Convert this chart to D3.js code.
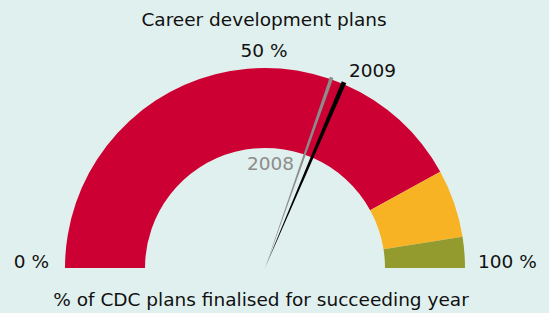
<!DOCTYPE html>
<html>
<head>
<meta charset="utf-8">
<script src="https://cdn.jsdelivr.net/npm/d3@7"></script>
<style>
  body { margin: 0; background: #e0f0ee; }
  text { font-family: "DejaVu Sans", Verdana, sans-serif; font-size: 18.5px; fill: #111; }
</style>
</head>
<body>
<div id="gauge"></div>
<script>
var svgWidth = 549;
var svgHeight = 313;

// gauge bands (percent)
var bandStarts = [0, 84, 95];
var bandEnds = [84, 95, 100];
var bandColors = ["#cc0033", "#f8b325", "#939b2e"];

// needles
var years = ["2008", "2009"];
var yearValues = [60.7, 62.8];
var needleColors = ["#8c8c8c", "#000000"];

// tick labels
var tickValues = [0, 50, 100];
var tickLabels = ["0 %", "50 %", "100 %"];

var cx = 265, cy = 268;
var innerR = 120, outerR = 200;

var svg = d3.select("#gauge")
  .append("svg")
  .attr("width", svgWidth)
  .attr("height", svgHeight);

svg.append("rect")
  .attr("width", svgWidth)
  .attr("height", svgHeight)
  .attr("fill", "#e0f0ee");

var angle = d3.scaleLinear()
  .domain([0, 100])
  .range([-Math.PI / 2, Math.PI / 2]);

var g = svg.append("g")
  .attr("transform", `translate(${cx}, ${cy})`);

var bandArc = d3.arc()
  .innerRadius(innerR)
  .outerRadius(outerR);

g.selectAll("path.band")
  .data(bandStarts)
  .enter()
  .append("path")
  .attr("class", "band")
  .attr("d", (d, i) => bandArc({ startAngle: angle(d), endAngle: angle(bandEnds[i]) }))
  .attr("fill", (d, i) => bandColors[i]);

// needles as thin wedges from the centre
var needleArc = d3.arc()
  .innerRadius(0)
  .outerRadius(outerR + 2);

var halfWidth = [0.009, 0.012];

g.selectAll("path.needle")
  .data(yearValues)
  .enter()
  .append("path")
  .attr("class", "needle")
  .attr("d", (d, i) => needleArc({
    startAngle: angle(d) - halfWidth[i],
    endAngle: angle(d) + halfWidth[i]
  }))
  .attr("fill", (d, i) => needleColors[i]);

// year labels
svg.append("text")
  .attr("x", 247)
  .attr("y", 170)
  .style("fill", "#8c8c8c")
  .text(years[0]);

svg.append("text")
  .attr("x", 349)
  .attr("y", 77)
  .text(years[1]);

// tick labels
svg.append("text")
  .attr("x", cx + outerR * Math.sin(angle(tickValues[0])) - 16)
  .attr("y", cy)
  .attr("text-anchor", "end")
  .text(tickLabels[0]);

svg.append("text")
  .attr("x", cx - 1)
  .attr("y", cy - outerR - 11)
  .attr("text-anchor", "middle")
  .text(tickLabels[1]);

svg.append("text")
  .attr("x", cx + outerR * Math.sin(angle(tickValues[2])) + 13)
  .attr("y", cy)
  .attr("text-anchor", "start")
  .text(tickLabels[2]);

// titles
svg.append("text")
  .attr("x", 264)
  .attr("y", 26)
  .attr("text-anchor", "middle")
  .text("Career development plans");

svg.append("text")
  .attr("x", 261)
  .attr("y", 306)
  .attr("text-anchor", "middle")
  .text("% of CDC plans finalised for succeeding year");
</script>
</body>
</html>
